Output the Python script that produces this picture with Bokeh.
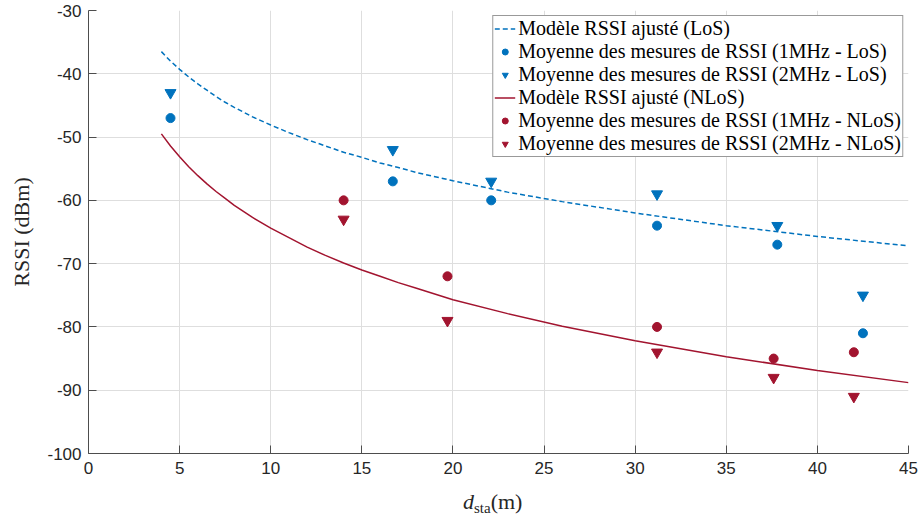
from bokeh.plotting import figure
from bokeh.models import Legend, LegendItem, FixedTicker, Range1d, Div
from bokeh.layouts import column
from bokeh.embed import file_html
from bokeh.resources import INLINE

# ---- data ----
d_model = [4, 4.5, 5, 5.5, 6, 6.5, 7, 7.5, 8, 9, 10, 11, 12, 13, 14, 15, 16, 17, 18, 20,
           23, 26, 30, 35, 40, 45]
rssi_model_los = [-36.5, -38.0, -39.3, -40.5, -41.6, -42.6, -43.6, -44.5, -45.3, -46.8,
                  -48.1, -49.3, -50.4, -51.4, -52.4, -53.2, -54.1, -54.8, -55.6, -56.9,
                  -58.7, -60.2, -62.0, -64.0, -65.7, -67.2]
rssi_model_nlos = [-49.5, -51.4, -53.1, -54.7, -56.1, -57.4, -58.6, -59.7, -60.8, -62.7,
                   -64.4, -65.9, -67.4, -68.7, -69.9, -71.0, -72.0, -73.0, -73.9, -75.7,
                   -77.9, -79.9, -82.2, -84.7, -86.9, -88.8]

d_los = [4.5, 16.7, 22.1, 31.2, 37.8, 42.5]
rssi_los_1mhz = [-47, -57, -60, -64, -67, -81]
rssi_los_2mhz = [-43, -52, -57, -59, -64, -75]

d_nlos = [14.0, 19.7, 31.2, 37.6, 42.0]
rssi_nlos_1mhz = [-60, -72, -80, -85, -84]
rssi_nlos_2mhz = [-63, -79, -84, -88, -91]

x_ticks = [0, 5, 10, 15, 20, 25, 30, 35, 40, 45]
x_tick_labels = ["0", "5", "10", "15", "20", "25", "30", "35", "40", "45"]
y_ticks = [-100, -90, -80, -70, -60, -50, -40, -30]
y_tick_labels = ["-100", "-90", "-80", "-70", "-60", "-50", "-40", "-30"]

labels = [
    "Modèle RSSI ajusté (LoS)",
    "Moyenne des mesures de RSSI (1MHz - LoS)",
    "Moyenne des mesures de RSSI (2MHz - LoS)",
    "Modèle RSSI ajusté (NLoS)",
    "Moyenne des mesures de RSSI (1MHz - NLoS)",
    "Moyenne des mesures de RSSI (2MHz - NLoS)",
]

BLUE = "#0072BD"
RED = "#A2142F"
TXT = "#262626"

p = figure(width=923, height=483, x_range=Range1d(0, 45), y_range=Range1d(-100, -30),
           output_backend="svg", toolbar_location=None,
           min_border_left=88, min_border_right=15, min_border_top=10, min_border_bottom=30)
p.outline_line_color = None
p.background_fill_color = "white"
p.border_fill_color = "white"

for ax in (p.xaxis, p.yaxis):
    ax.axis_line_color = "#4d4d4d"
    ax.axis_line_width = 1
    ax.major_tick_line_color = "#4d4d4d"
    ax.major_tick_in = 8
    ax.major_tick_out = 0
    ax.minor_tick_line_color = None
    ax.major_label_text_font = "Liberation Sans"
    ax.major_label_text_font_size = "17px"
    ax.major_label_text_color = TXT

p.xaxis.ticker = FixedTicker(ticks=x_ticks)
p.yaxis.ticker = FixedTicker(ticks=y_ticks)
p.xaxis.major_label_overrides = {t: s for t, s in zip(x_ticks, x_tick_labels)}
p.yaxis.major_label_overrides = {t: s for t, s in zip(y_ticks, y_tick_labels)}
p.xaxis.major_label_standoff = 8
p.yaxis.major_label_standoff = 7

p.yaxis.axis_label = "RSSI (dBm)"
p.yaxis.axis_label_text_font = "Liberation Serif"
p.yaxis.axis_label_text_font_style = "normal"
p.yaxis.axis_label_text_font_size = "22px"
p.yaxis.axis_label_text_color = TXT
p.yaxis.axis_label_standoff = 10

p.xgrid.ticker = FixedTicker(ticks=x_ticks)
p.ygrid.ticker = FixedTicker(ticks=y_ticks)
for g in (p.xgrid, p.ygrid):
    g.grid_line_color = "#dedede"
    g.grid_line_width = 1

r_los_model = p.line(d_model, rssi_model_los, line_color=BLUE, line_dash="5 3", line_width=1.5)
r_los1 = p.scatter(d_los, rssi_los_1mhz, marker="circle", size=9, color=BLUE)
r_los2 = p.scatter(d_los, rssi_los_2mhz, marker="inverted_triangle", size=11, color=BLUE)
r_nlos_model = p.line(d_model, rssi_model_nlos, line_color=RED, line_width=1.5)
r_nlos1 = p.scatter(d_nlos, rssi_nlos_1mhz, marker="circle", size=9, color=RED)
r_nlos2 = p.scatter(d_nlos, rssi_nlos_2mhz, marker="inverted_triangle", size=11, color=RED)

renderers = [r_los_model, r_los1, r_los2, r_nlos_model, r_nlos1, r_nlos2]
legend = Legend(items=[LegendItem(label=l, renderers=[r]) for l, r in zip(labels, renderers)],
                location="top_right", margin=5, padding=1, spacing=0,
                label_text_font="Liberation Serif", label_text_font_size="20px",
                label_text_color="black", label_height=23, glyph_height=15, glyph_width=21,
                label_standoff=3, border_line_color="#333333", border_line_width=1,
                background_fill_color="white", background_fill_alpha=1.0)
p.add_layout(legend)

# x axis label: d_sta(m), as HTML text below the figure
xlabel = Div(
    text=('<span style="font-family: \'Liberation Serif\'; font-size: 22px; color: #262626; '
          'white-space: nowrap;"><i>d</i><span style="font-size: 15px; position: relative; '
          'top: 4px;">sta</span>(m)</span>'),
    width=923, height=33, margin=(0, 0, 0, 0),
    styles={"padding-left": "463px", "padding-top": "7px", "box-sizing": "border-box",
            "line-height": "24px"},
)

layout = column(p, xlabel, spacing=0)
open("out.html", "w").write(file_html(layout, INLINE))
